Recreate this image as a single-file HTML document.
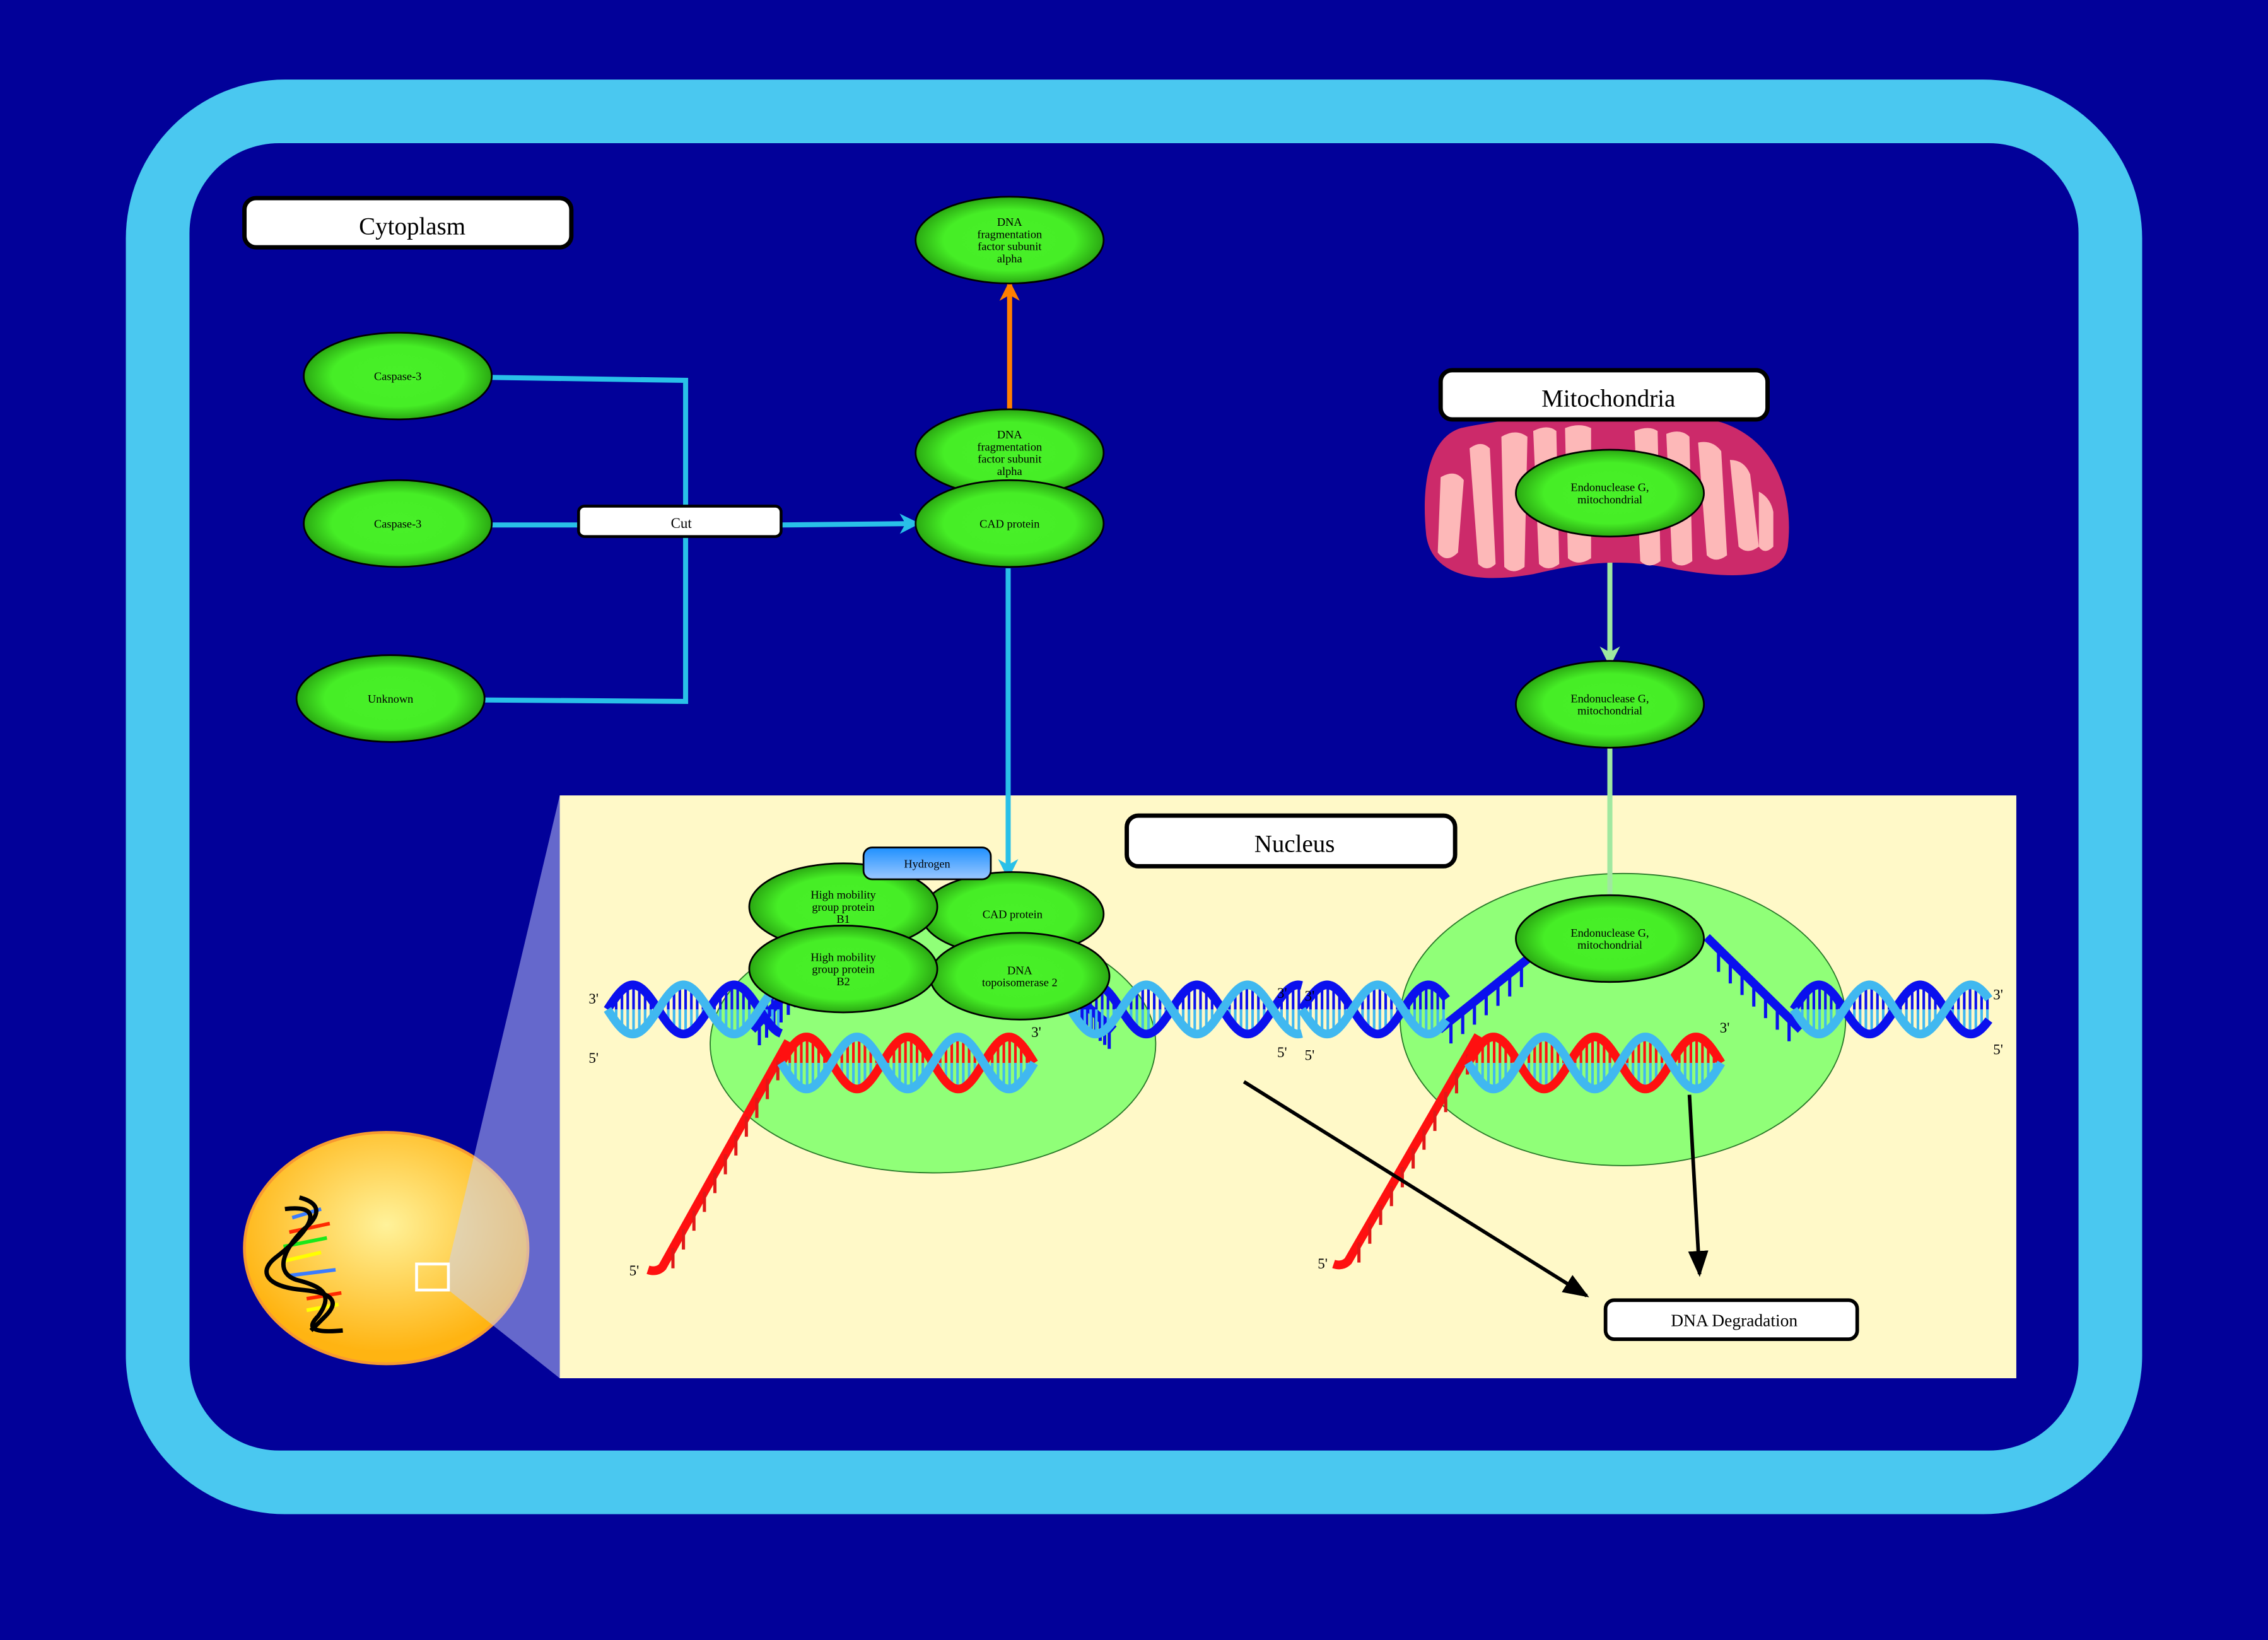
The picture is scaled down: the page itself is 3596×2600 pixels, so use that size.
<!DOCTYPE html>
<html><head><meta charset="utf-8"><style>
html,body{margin:0;padding:0;background:#020199;}
svg{display:block;}
text{font-family:"Liberation Serif",serif;}
</style></head><body>
<svg id="s" width="3596" height="2600" viewBox="0 0 1568 1134" preserveAspectRatio="none" xmlns="http://www.w3.org/2000/svg">
<defs>
<radialGradient id="g" cx="50%" cy="50%" r="50%"><stop offset="0" stop-color="#48f028"/><stop offset="0.7" stop-color="#46ee26"/><stop offset="1" stop-color="#2aa812"/></radialGradient>
<radialGradient id="o" cx="50%" cy="40%" r="55%"><stop offset="0" stop-color="#fff29a"/><stop offset="1" stop-color="#ffb412"/></radialGradient>
<linearGradient id="h" x1="0" y1="0" x2="0" y2="1"><stop offset="0" stop-color="#1e90ff"/><stop offset="1" stop-color="#9cc8ff"/></linearGradient>
<marker id="ab" markerWidth="14" markerHeight="14" refX="12" refY="7" orient="auto" markerUnits="userSpaceOnUse"><path d="M0,0 L14,7 L0,14 L4,7 z" fill="#29c0e8"/></marker>
<marker id="ao" markerWidth="14" markerHeight="14" refX="12" refY="7" orient="auto" markerUnits="userSpaceOnUse"><path d="M0,0 L14,7 L0,14 L4,7 z" fill="#ff7f00"/></marker>
<marker id="ag" markerWidth="14" markerHeight="14" refX="12" refY="7" orient="auto" markerUnits="userSpaceOnUse"><path d="M0,0 L14,7 L0,14 L4,7 z" fill="#a0e8a0"/></marker>
<marker id="ak" markerWidth="18" markerHeight="14" refX="16" refY="7" orient="auto" markerUnits="userSpaceOnUse"><path d="M0,0 L18,7 L0,14 z" fill="#000"/></marker>
</defs>
<rect width="1568" height="1134" fill="#020199"/>
<rect x="87" y="55" width="1394" height="992" rx="110" fill="#4ac8f0"/>
<rect x="131" y="99" width="1306" height="904" rx="62" fill="#020199"/>

<rect x="169" y="137" width="226" height="34" rx="8" fill="#fff" stroke="#000" stroke-width="3"/>
<text x="285" y="162" font-size="17" text-anchor="middle">Cytoplasm</text>

<g fill="none" stroke="#29c0e8" stroke-width="3.5">
<polyline points="340,261 474,263 474,485 335,484"/>
<line x1="340" y1="363" x2="400" y2="363"/>
<line x1="540" y1="363" x2="634" y2="362" marker-end="url(#ab)"/>
</g>
<line x1="698" y1="283" x2="698" y2="196" stroke="#ff7f00" stroke-width="3.5" marker-end="url(#ao)"/>
<line x1="1113" y1="371" x2="1113" y2="459" stroke="#a0e8a0" stroke-width="3.5" marker-end="url(#ag)"/>

<rect x="400" y="350" width="140" height="21" rx="4" fill="#fff" stroke="#000" stroke-width="2"/>
<text x="471" y="365" font-size="10" text-anchor="middle">Cut</text>

<path d="M1010,296 C1060,285 1150,282 1190,292 C1230,305 1240,345 1236,378 C1232,400 1200,402 1150,392 C1115,386 1090,390 1060,397 C1020,404 990,398 986,370 C982,330 990,302 1010,296 z" fill="#cc2a6a"/>
<g fill="#fdb8b8">
<path d="M996,330 q10,-6 16,2 l-4,50 q-8,8 -14,0 z"/>
<path d="M1016,310 q8,-6 14,0 l4,80 q-6,6 -12,0 z"/>
<path d="M1038,302 q10,-6 18,0 l-2,90 q-8,6 -14,0 z"/>
<path d="M1060,298 q10,-5 16,0 l2,92 q-8,6 -14,0 z"/>
<path d="M1082,296 q10,-4 18,0 l0,90 q-9,6 -16,0 z"/>
<path d="M1130,298 q10,-4 16,0 l2,90 q-8,6 -14,0 z"/>
<path d="M1152,300 q10,-4 16,2 l2,86 q-8,6 -14,0 z"/>
<path d="M1174,306 q10,-2 16,6 l4,72 q-8,6 -14,0 z"/>
<path d="M1196,318 q10,0 14,10 l6,50 q-8,6 -14,0 z"/>
<path d="M1216,340 q8,4 10,14 l0,24 q-6,6 -10,0 z"/>
</g>
<rect x="996" y="256" width="226" height="34" rx="8" fill="#fff" stroke="#000" stroke-width="3"/>
<text x="1112" y="281" font-size="17" text-anchor="middle">Mitochondria</text>

<ellipse cx="267" cy="863" rx="98" ry="80" fill="url(#o)" stroke="#f89a30" stroke-width="2"/>
<path d="M310,874 L387,550 L387,953 L310,892 z" fill="#c8d0ff" opacity="0.5"/>
<rect x="288" y="874" width="22" height="18" fill="none" stroke="#fff" stroke-width="2"/>
<g stroke-width="2.5">
<line x1="202" y1="842" x2="222" y2="836" stroke="#3a7cff"/>
<line x1="200" y1="852" x2="228" y2="846" stroke="#ff2a00"/>
<line x1="196" y1="862" x2="226" y2="856" stroke="#1ae81a"/>
<line x1="196" y1="872" x2="222" y2="866" stroke="#ffff00"/>
<line x1="200" y1="882" x2="232" y2="878" stroke="#3a7cff"/>
<line x1="212" y1="898" x2="236" y2="894" stroke="#ff2a00"/>
<line x1="212" y1="906" x2="234" y2="902" stroke="#ffff00"/>
</g>
<g fill="none" stroke="#000" stroke-width="3">
<path d="M197,836 C230,832 210,855 190,870 C178,880 185,890 210,892 C230,894 235,900 225,910 L215,920"/>
<path d="M207,828 C222,832 222,840 210,850 C195,865 190,880 205,885 C225,890 230,896 220,910 C212,918 215,922 237,920"/>
</g>
<rect x="387" y="550" width="1007" height="403" fill="#fff9c8"/>
<rect x="779" y="564" width="227" height="35" rx="8" fill="#fff" stroke="#000" stroke-width="3"/>
<text x="895" y="589" font-size="17" text-anchor="middle">Nucleus</text>

<ellipse cx="645" cy="722" rx="154" ry="89" fill="#90ff78" stroke="#2a7a2a" stroke-width="0.8"/>
<ellipse cx="1122" cy="705" rx="154" ry="101" fill="#90ff78" stroke="#2a7a2a" stroke-width="0.8"/>
<g id="dna"></g>

<line x1="697" y1="393" x2="697" y2="606" stroke="#29c0e8" stroke-width="3.5" marker-end="url(#ab)"/>
<line x1="1113" y1="517" x2="1113" y2="622" stroke="#a0e8a0" stroke-width="3.5"/>

<rect x="1110" y="899" width="174" height="27" rx="6" fill="#fff" stroke="#000" stroke-width="2.5"/>
<text x="1199" y="917" font-size="12" text-anchor="middle">DNA Degradation</text>
<line x1="860" y1="748" x2="1097" y2="896" stroke="#000" stroke-width="2.5" marker-end="url(#ak)"/>
<line x1="1168" y1="757" x2="1175" y2="881" stroke="#000" stroke-width="2.5" marker-end="url(#ak)"/>

<g id="ells"></g>
<rect x="597" y="586" width="88" height="22" rx="6" fill="url(#h)" stroke="#000" stroke-width="1.2"/>
<text x="641" y="600" font-size="8" text-anchor="middle">Hydrogen</text>
</svg>
<script>
var NS="http://www.w3.org/2000/svg";
function el(p,t,a,txt){var e=document.createElementNS(NS,t);for(var k in a)e.setAttribute(k,a[k]);if(txt)e.textContent=txt;p.appendChild(e);return e;}
var dna=document.getElementById('dna');
function helix(x0,x1,cy,A,P,cA,cB,cr1,cr2){
  for(var x=x0+2;x<x1;x+=4){var y1=cy+A*Math.sin(2*Math.PI*(x-x0)/P),y2=cy-A*Math.sin(2*Math.PI*(x-x0)/P);
    el(dna,'line',{x1:x,y1:Math.min(y1,y2),x2:x,y2:cy,stroke:cr1,'stroke-width':1.8});
    el(dna,'line',{x1:x,y1:cy,x2:x,y2:Math.max(y1,y2),stroke:cr2,'stroke-width':1.8});}
  var a='',b='';for(var x=x0;x<=x1;x+=1){var s=Math.sin(2*Math.PI*(x-x0)/P);a+=(x==x0?'M':'L')+x+','+(cy+A*s);b+=(x==x0?'M':'L')+x+','+(cy-A*s);}
  el(dna,'path',{d:b,fill:'none',stroke:cB,'stroke-width':6});
  el(dna,'path',{d:a,fill:'none',stroke:cA,'stroke-width':6});
}
function strand(xa,ya,xb,yb){el(dna,'path',{d:'M'+xa+','+ya+' L'+xb+','+yb+' Q'+(xb-4)+','+(yb+4)+' '+(xb-10)+','+(yb+2),fill:'none',stroke:'#ff1010','stroke-width':6});
  for(var i=1;i<12;i++){var t=i/12,x=xa+(xb-xa)*t,y=ya+(yb-ya)*t;el(dna,'line',{x1:x,y1:y,x2:x,y2:y+14,stroke:'#e01818','stroke-width':2.2});}}
strand(545,720,458,876);strand(1022,716,932,872);
function bl(xa,ya,xb,yb){el(dna,'line',{x1:xa,y1:ya,x2:xb,y2:yb,stroke:'#0a10ee','stroke-width':6});
 for(var i=1;i<8;i++){var t=i/8,x=xa+(xb-xa)*t,y=ya+(yb-ya)*t;el(dna,'line',{x1:x,y1:y,x2:x,y2:y+16,stroke:'#0a10ee','stroke-width':2.2});}}
bl(995,712,1060,660);bl(1180,648,1245,712);bl(520,712,560,670);bl(745,690,770,712);
var B='#0a10ee',L='#40b8f0',R='#ff1010';
helix(420,540,698,17,70,L,B,B,L);
helix(540,715,735,18,70,L,R,R,L);
helix(740,900,698,17,70,L,B,B,L);
helix(900,1000,698,17,70,L,B,B,L);
helix(1015,1190,735,18,70,L,R,R,L);
helix(1240,1375,698,17,70,L,B,B,L);
var labs=[[407,694,"3'"],[407,735,"5'"],[713,717,"3'"],[883,690,"3'"],[902,692,"3'"],[883,731,"5'"],[902,733,"5'"],[1189,714,"3'"],[1378,691,"3'"],[1378,729,"5'"],[435,882,"5'"],[911,877,"5'"]];
labs.forEach(function(l){el(dna,'text',{x:l[0],y:l[1],'font-size':10,'font-family':'Liberation Sans,sans-serif'},l[2]);});
var E=document.getElementById('ells');
function ell(cx,cy,rx,ry,lines,fs){el(E,'ellipse',{cx:cx,cy:cy,rx:rx,ry:ry,fill:'url(#g)',stroke:'#000','stroke-width':1.2});
 var n=lines.length,lh=fs*1.05,y0=cy-(n-1)*lh/2+fs*0.35;
 lines.forEach(function(t,i){el(E,'text',{x:cx,y:y0+i*lh,'font-size':fs,'text-anchor':'middle'},t);});}
ell(275,260,65,30,['Caspase-3'],8);
ell(275,362,65,30,['Caspase-3'],8);
ell(270,483,65,30,['Unknown'],8);
ell(698,166,65,30,['DNA','fragmentation','factor subunit','alpha'],8);
ell(698,313,65,30,['DNA','fragmentation','factor subunit','alpha'],8);
ell(698,362,65,30,['CAD protein'],8);
ell(1113,341,65,30,['Endonuclease G,','mitochondrial'],8);
ell(1113,487,65,30,['Endonuclease G,','mitochondrial'],8);
ell(1113,649,65,30,['Endonuclease G,','mitochondrial'],8);
ell(700,632,63,29,['CAD protein'],8);
ell(583,627,65,30,['High mobility','group protein','B1'],8);
ell(705,675,62,30,['DNA','topoisomerase 2'],8);
ell(583,670,65,30,['High mobility','group protein','B2'],8);
</script>
</body></html>
